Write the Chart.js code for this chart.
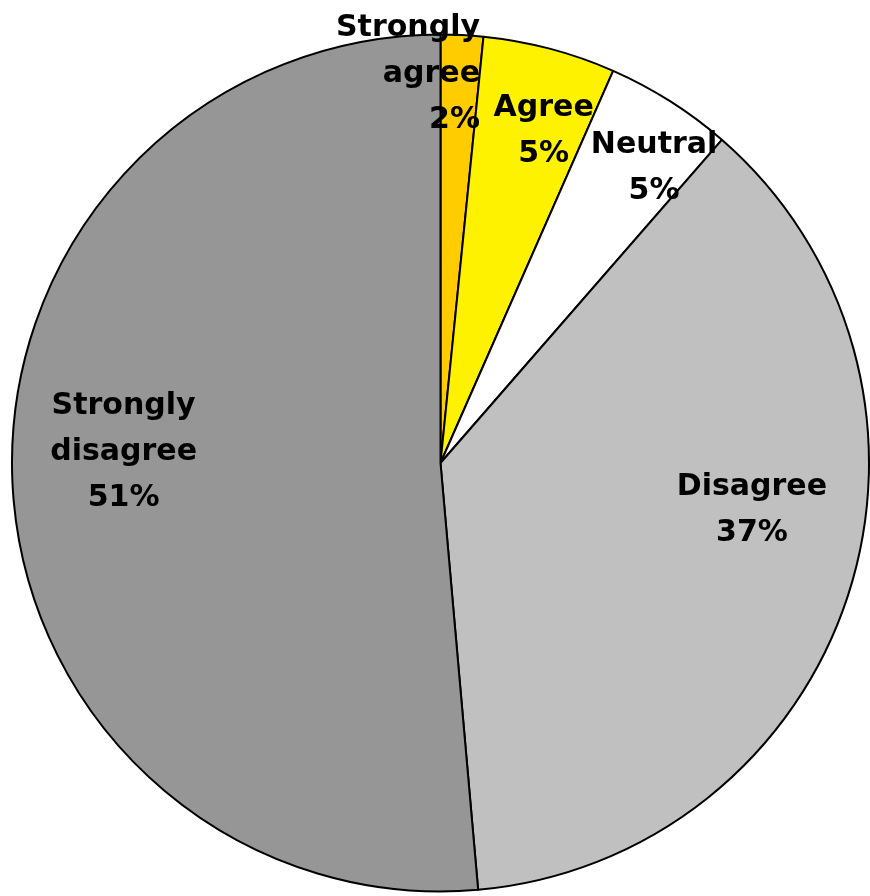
<!DOCTYPE html>
<html>
<head>
<meta charset="utf-8">
<script src="https://cdn.jsdelivr.net/npm/chart.js@4"></script>
<style>
  html, body { margin: 0; padding: 0; background: #fff; }
  #wrap { width: 870px; height: 896px; }
</style>
</head>
<body>
<div id="wrap"><canvas id="myChart"></canvas></div>
<script>
  // data (share of responses, %)
  const labels = ['Strongly agree', 'Agree', 'Neutral', 'Disagree', 'Strongly disagree'];
  const values = [1.6, 5.0, 4.8, 37.2, 51.4];
  const shown = ['2%', '5%', '5%', '37%', '51%'];
  const colors = ['#FFCC00', '#FFF200', '#FFFFFF', '#C0C0C0', '#969696'];

  // label lines and where they sit (fraction of radius, angle clockwise from top, align)
  const labelLines = [['Strongly', 'agree'], ['Agree'], ['Neutral'], ['Disagree'], ['Strongly', 'disagree']];
  const labelSpots = [[0.912, 5.8, 'right'], [0.81, 17.3, 'center'], [0.85, 35.9, 'center'],
                      [0.735, 98.6, 'center'], [0.74, 272.0, 'center']];

  const sliceLabels = {
    id: 'sliceLabels',
    afterDatasetsDraw(chart) {
      const c = chart.ctx;
      const arcs = chart.getDatasetMeta(0).data;
      c.save();
      c.font = 'bold 30px "DejaVu Sans"';
      c.fillStyle = '#000';
      c.textBaseline = 'middle';
      arcs.forEach((arc, i) => {
        const [f, deg, align] = labelSpots[i];
        const a = (deg - 90) * Math.PI / 180;
        const x = arc.x + Math.cos(a) * arc.outerRadius * f;
        const y = arc.y + Math.sin(a) * arc.outerRadius * f;
        const lines = labelLines[i].concat([shown[i]]);
        const lh = 46;
        c.textAlign = align;
        lines.forEach((t, k) => {
          c.fillText(t, x, y + (k - (lines.length - 1) / 2) * lh);
        });
      });
      c.restore();
    }
  };

  const ctx = document.getElementById('myChart');

  new Chart(ctx, {
    type: 'pie',
    data: {
      labels: labels,
      datasets: [{
        data: values,
        backgroundColor: colors,
        borderColor: '#000',
        borderWidth: 2
      }]
    },
    options: {
      responsive: true,
      maintainAspectRatio: false,
      animation: false,
      layout: { padding: { left: 11, right: 0, top: 33, bottom: 3 } },
      plugins: {
        legend: { display: false },
        tooltip: { enabled: false }
      }
    },
    plugins: [sliceLabels]
  });
</script>
</body>
</html>
